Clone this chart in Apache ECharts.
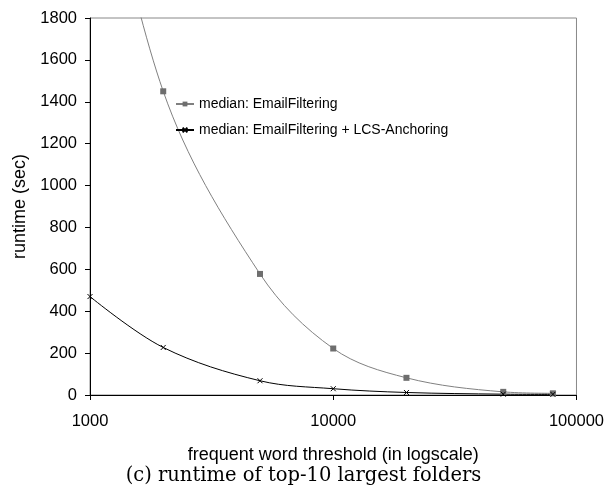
<!DOCTYPE html>
<html style="height: 100%">
<head>
<meta charset="utf-8">
<script src="https://cdn.jsdelivr.net/npm/echarts@6/dist/echarts.min.js"></script>
</head>
<body style="height: 100%; margin: 0; background: #fff">
<div id="container" style="width: 607px; height: 488px"></div>
<script type="text/javascript">
// frequent word thresholds (x, log scale)
var thresholds = [1000, 2000, 5000, 10000, 20000, 50000, 80000];
// median runtime (sec)
var emailFiltering = [2900, 1450, 578, 222, 82, 15, 8];
var withAnchoring = [470, 227, 68, 30, 12, 4, 3];
var yTicks = { min: 0, max: 1800, interval: 200 };

function pairs(xs, ys) {
    var res = [];
    for (var i = 0; i < xs.length; i++) {
        res.push([xs[i], ys[i]]);
    }
    return res;
}

var sans = 'Liberation Sans';
var myChart = echarts.init(document.getElementById('container'));
var option = {
    backgroundColor: '#fff',
    animation: false,
    title: {
        text: '(c) runtime of top-10 largest folders',
        left: 'center',
        top: 461,
        textStyle: { fontFamily: 'DejaVu Serif', fontSize: 19.5, fontWeight: 'normal', color: '#000' }
    },
    legend: {
        orient: 'vertical',
        left: 170,
        top: 92,
        itemWidth: 18,
        itemHeight: 6,
        itemGap: 12,
        textStyle: { fontFamily: sans, fontSize: 14, color: '#000' },
        data: ['median: EmailFiltering', 'median: EmailFiltering + LCS-Anchoring']
    },
    grid: {
        left: 90, right: 30, top: 18, bottom: 93,
        show: true, borderColor: '#888', borderWidth: 1
    },
    xAxis: {
        type: 'log',
        logBase: 10,
        min: 1000,
        max: 100000,
        name: 'frequent word threshold (in logscale)',
        nameLocation: 'middle',
        nameGap: 51,
        nameTextStyle: { fontFamily: sans, fontSize: 18, color: '#000' },
        axisLine: { lineStyle: { color: '#000', width: 1 } },
        axisTick: { show: true, inside: false, length: 5, lineStyle: { color: '#000' } },
        minorTick: { show: false },
        splitLine: { show: false },
        axisLabel: { fontFamily: sans, fontSize: 16.5, color: '#000', margin: 18,
            formatter: function (v) { return String(v); } }
    },
    yAxis: {
        type: 'value',
        min: yTicks.min,
        max: yTicks.max,
        interval: yTicks.interval,
        name: 'runtime (sec)',
        nameLocation: 'middle',
        nameGap: 60,
        nameTextStyle: { fontFamily: sans, fontSize: 18, color: '#000' },
        axisLine: { show: true, lineStyle: { color: '#000', width: 1 } },
        axisTick: { show: true, inside: false, length: 5, lineStyle: { color: '#000' } },
        splitLine: { show: false },
        axisLabel: { fontFamily: sans, fontSize: 16.5, color: '#000', margin: 13,
            formatter: function (v) { return String(v); } }
    },
    series: [{
        name: 'median: EmailFiltering',
        type: 'line',
        smooth: 0.35,
        clip: true,
        data: pairs(thresholds, emailFiltering),
        symbol: 'rect',
        symbolSize: 6,
        itemStyle: { color: '#6e6e6e' },
        lineStyle: { color: '#808080', width: 1 }
    }, {
        name: 'median: EmailFiltering + LCS-Anchoring',
        type: 'line',
        smooth: 0.35,
        clip: true,
        data: pairs(thresholds, withAnchoring),
        symbol: 'path://M0,0L10,10M10,0L0,10',
        symbolSize: 5,
        itemStyle: { color: '#000', borderColor: '#000', borderWidth: 1 },
        lineStyle: { color: '#000', width: 1 }
    }]
};
myChart.setOption(option);
</script>
</body>
</html>
